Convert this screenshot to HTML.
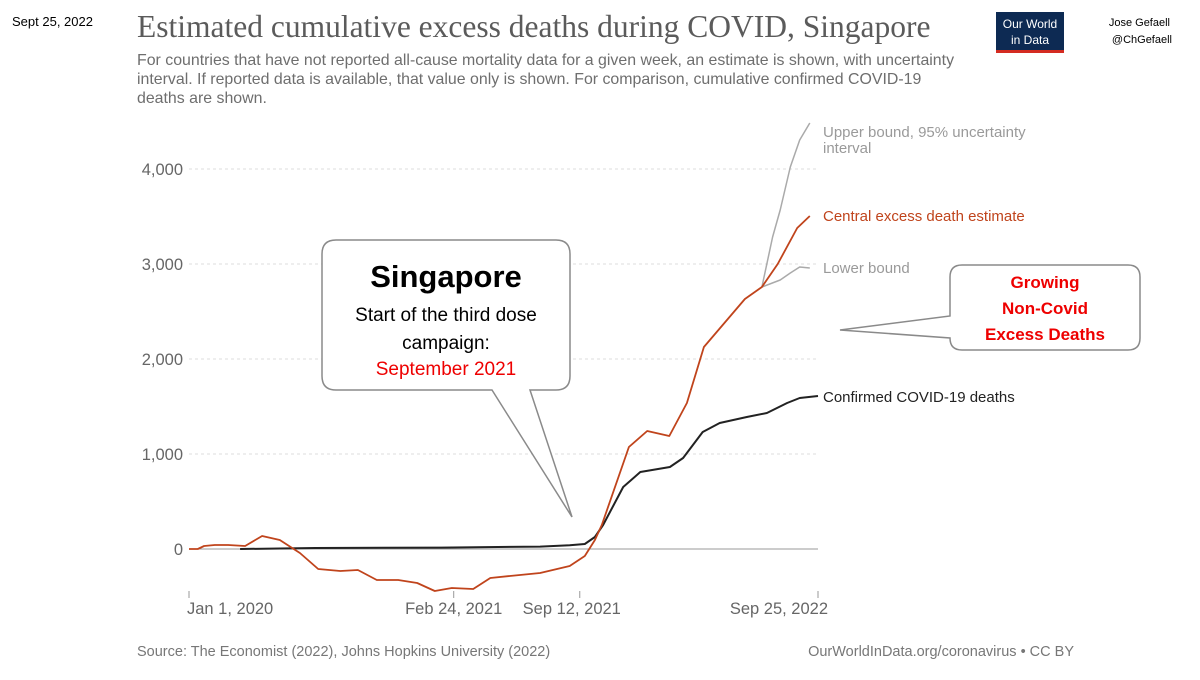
<!DOCTYPE html>
<html><head><meta charset="utf-8"><style>
body{margin:0;background:#fff;width:1200px;height:675px;overflow:hidden;font-family:"Liberation Sans",sans-serif}
svg text{font-family:"Liberation Sans",sans-serif}
</style></head><body>
<svg id="chart" width="1200" height="675" viewBox="0 0 1200 675">
<text x="12" y="26" font-size="13" fill="#000">Sept 25, 2022</text>
<text x="137" y="37" font-size="31.5" fill="#5b5b5b" style="font-family:'Liberation Serif',serif">Estimated cumulative excess deaths during COVID, Singapore</text>
<g font-size="15.9" fill="#6e6e6e">
<text x="137" y="65">For countries that have not reported all-cause mortality data for a given week, an estimate is shown, with uncertainty</text>
<text x="137" y="84">interval. If reported data is available, that value only is shown. For comparison, cumulative confirmed COVID-19</text>
<text x="137" y="103">deaths are shown.</text>
</g>
<g>
<rect x="996" y="12" width="68" height="41" fill="#0d2a53"/>
<rect x="996" y="50" width="68" height="3" fill="#d42b21"/>
<text x="1030" y="28" font-size="12" fill="#fff" text-anchor="middle">Our World</text>
<text x="1030" y="44" font-size="12" fill="#fff" text-anchor="middle">in Data</text>
</g>
<g font-size="11" fill="#000" text-anchor="end">
<text x="1170" y="26">Jose Gefaell</text><text x="1172" y="43">@ChGefaell</text>
</g>
<g id="grid"></g><g id="axes"></g><g id="series"></g>
<g font-size="15">
<text x="823" y="137" fill="#9a9a9a">Upper bound, 95% uncertainty</text>
<text x="823" y="153" fill="#9a9a9a">interval</text>
<text x="823" y="221" fill="#c0441c">Central excess death estimate</text>
<text x="823" y="273" fill="#9a9a9a">Lower bound</text>
<text x="823" y="402" fill="#222">Confirmed COVID-19 deaths</text>
</g>
<g>
<path d="M336,240 H556 Q570,240 570,254 V376 Q570,390 556,390 H530 L572,517 L492,390 H336 Q322,390 322,376 V254 Q322,240 336,240 Z" fill="#fff" stroke="#8a8a8a" stroke-width="1.5"/>
<text x="446" y="287" font-size="31" font-weight="bold" fill="#000" text-anchor="middle">Singapore</text>
<text x="446" y="321" font-size="19" fill="#000" text-anchor="middle">Start of the third dose</text>
<text x="446" y="349" font-size="19" fill="#000" text-anchor="middle">campaign:</text>
<text x="446" y="375" font-size="19" fill="#e00" text-anchor="middle">September 2021</text>
</g>
<g>
<path d="M962,265 H1128 Q1140,265 1140,277 V338 Q1140,350 1128,350 H962 Q950,350 950,338 V338 L840,330 L950,316 V277 Q950,265 962,265 Z" fill="#fff" stroke="#8a8a8a" stroke-width="1.5"/>
<text x="1045" y="288" font-size="17" font-weight="bold" fill="#e00" text-anchor="middle">Growing</text>
<text x="1045" y="314" font-size="17" font-weight="bold" fill="#e00" text-anchor="middle">Non-Covid</text>
<text x="1045" y="340" font-size="17" font-weight="bold" fill="#e00" text-anchor="middle">Excess Deaths</text>
</g>
<text x="137" y="656" font-size="14.5" fill="#777">Source: The Economist (2022), Johns Hopkins University (2022)</text>
<text x="1074" y="656" font-size="14.5" fill="#777" text-anchor="end">OurWorldInData.org/coronavirus • CC BY</text>
</svg>
<script>
const yTicks=[0,1000,2000,3000,4000];
const yTickLabels=["0","1,000","2,000","3,000","4,000"];
const xTicks=[0,420,620,998];
const xTickLabels=["Jan 1, 2020","Feb 24, 2021","Sep 12, 2021","Sep 25, 2022"];
const centralDays=[0,14,24,41,62,89,116,144,176,205,240,268,298,332,362,390,417,451,478,509,557,604,628,644,655,698,727,762,790,817,882,909,934,965,985];
const centralValues=[0,0,32,42,42,32,137,95,-42,-211,-232,-221,-326,-326,-358,-442,-411,-421,-305,-284,-253,-179,-74,95,253,1074,1242,1189,1537,2126,2632,2758,3000,3379,3505];
const confirmedDays=[81,200,400,557,604,628,644,657,689,716,763,784,815,842,885,917,949,969,998];
const confirmedValues=[0,10,15,25,40,53,126,253,653,811,863,958,1232,1326,1389,1432,1537,1589,1611];
const upperDays=[909,926,938,954,969,985];
const upperValues=[2758,3284,3568,4021,4305,4484];
const lowerDays=[909,938,954,969,985];
const lowerValues=[2758,2832,2905,2968,2958];
const X=d=>189+d*(629/998);
const Y=v=>549-v*0.095;
const NS="http://www.w3.org/2000/svg";
function mk(tag,attrs,parent){const e=document.createElementNS(NS,tag);for(const k in attrs)e.setAttribute(k,attrs[k]);document.getElementById(parent).appendChild(e);return e;}
yTicks.forEach((t,i)=>{
 if(t!==0){const g=mk('line',{x1:189,x2:818,y1:Y(t),y2:Y(t),stroke:'#ddd','stroke-dasharray':'3,3'},'grid');
 
 }
 const l=mk('text',{x:183,y:Y(t)+6,'font-size':16.5,fill:'#666','text-anchor':'end'},'axes');l.textContent=yTickLabels[i];
 
 
});
const z=mk('line',{x1:189,x2:818,y1:Y(0),y2:Y(0),stroke:'#999','stroke-width':1},'grid');


xTicks.forEach((t,i)=>{
 const tk=mk('line',{x1:X(t),x2:X(t),y1:591,y2:598,stroke:'#999'},'axes');
 
 
 const a=i===0?'start':(i===3?'end':'middle');
 const xx=i===0?X(t)-2:(i===3?X(t)+10:X(t)-(i===2?8:0));
 const l=mk('text',{x:xx,y:614,'font-size':16.5,fill:'#666','text-anchor':a},'axes');l.textContent=xTickLabels[i];
 
 
});
function line(days,vals,color,w,name){
 const d=days.map((t,i)=>(i?'L':'M')+X(t).toFixed(1)+','+Y(vals[i]).toFixed(1)).join('');
 const p=mk('path',{d:d,fill:'none',stroke:color,'stroke-width':w,'stroke-linejoin':'round'},'series');
 
 
}
line(upperDays,upperValues,'#aaa',1.5,'upper-bound-line');
line(lowerDays,lowerValues,'#aaa',1.5,'lower-bound-line');
line(confirmedDays,confirmedValues,'#222',2,'confirmed-deaths-line');
line(centralDays,centralValues,'#c0441c',1.8,'central-estimate-line');
</script>
</body></html>
